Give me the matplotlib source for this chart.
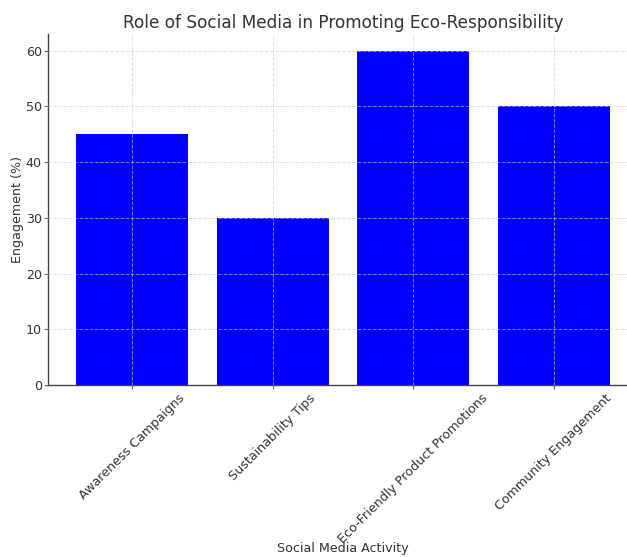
import matplotlib
matplotlib.use("Agg")
import matplotlib.pyplot as plt

categories = ["Awareness Campaigns", "Sustainability Tips",
              "Eco-Friendly Product Promotions", "Community Engagement"]
engagement = [45, 30, 60, 50]
yticks = [0, 10, 20, 30, 40, 50, 60]

plt.rcParams['font.family'] = ['DejaVu Sans']
fig = plt.figure(figsize=(6.27, 5.57), dpi=100)
ax = fig.add_axes([48/627, 172/557, 590/627, 351/557])

x = list(range(len(categories)))
ax.bar(x, engagement, width=0.8, color="#0000ff", zorder=1)
ax.set_xlim(-0.6, 3.6)
ax.set_ylim(0, 63)
ax.set_yticks(yticks)
ax.set_xticks(x)
ax.set_xticklabels(categories, rotation=45, ha="center", fontsize=9.1, color="#333333")
ax.tick_params(axis="y", labelsize=9.1, labelcolor="#333333", length=3,
               width=0.8, color="#666666", pad=1.5)
ax.tick_params(axis="x", length=3, width=0.8, color="#666666", pad=2)

ax.set_axisbelow(False)
ax.grid(True, linestyle="--", linewidth=0.7, color="#cccccc", alpha=0.6)

for s in ["top", "right"]:
    ax.spines[s].set_visible(False)
for s in ["left", "bottom"]:
    ax.spines[s].set_color("#444444")
    ax.spines[s].set_linewidth(1.0)

ax.set_title("Role of Social Media in Promoting Eco-Responsibility",
             fontsize=12.2, color="#333333", pad=4)
ax.set_ylabel("Engagement (%)", fontsize=9.1, color="#333333", labelpad=1)
ax.set_xlabel("Social Media Activity", fontsize=9.1, color="#333333")
ax.xaxis.set_label_coords(0.5, -0.447)

fig.savefig("out.png", dpi=100)
